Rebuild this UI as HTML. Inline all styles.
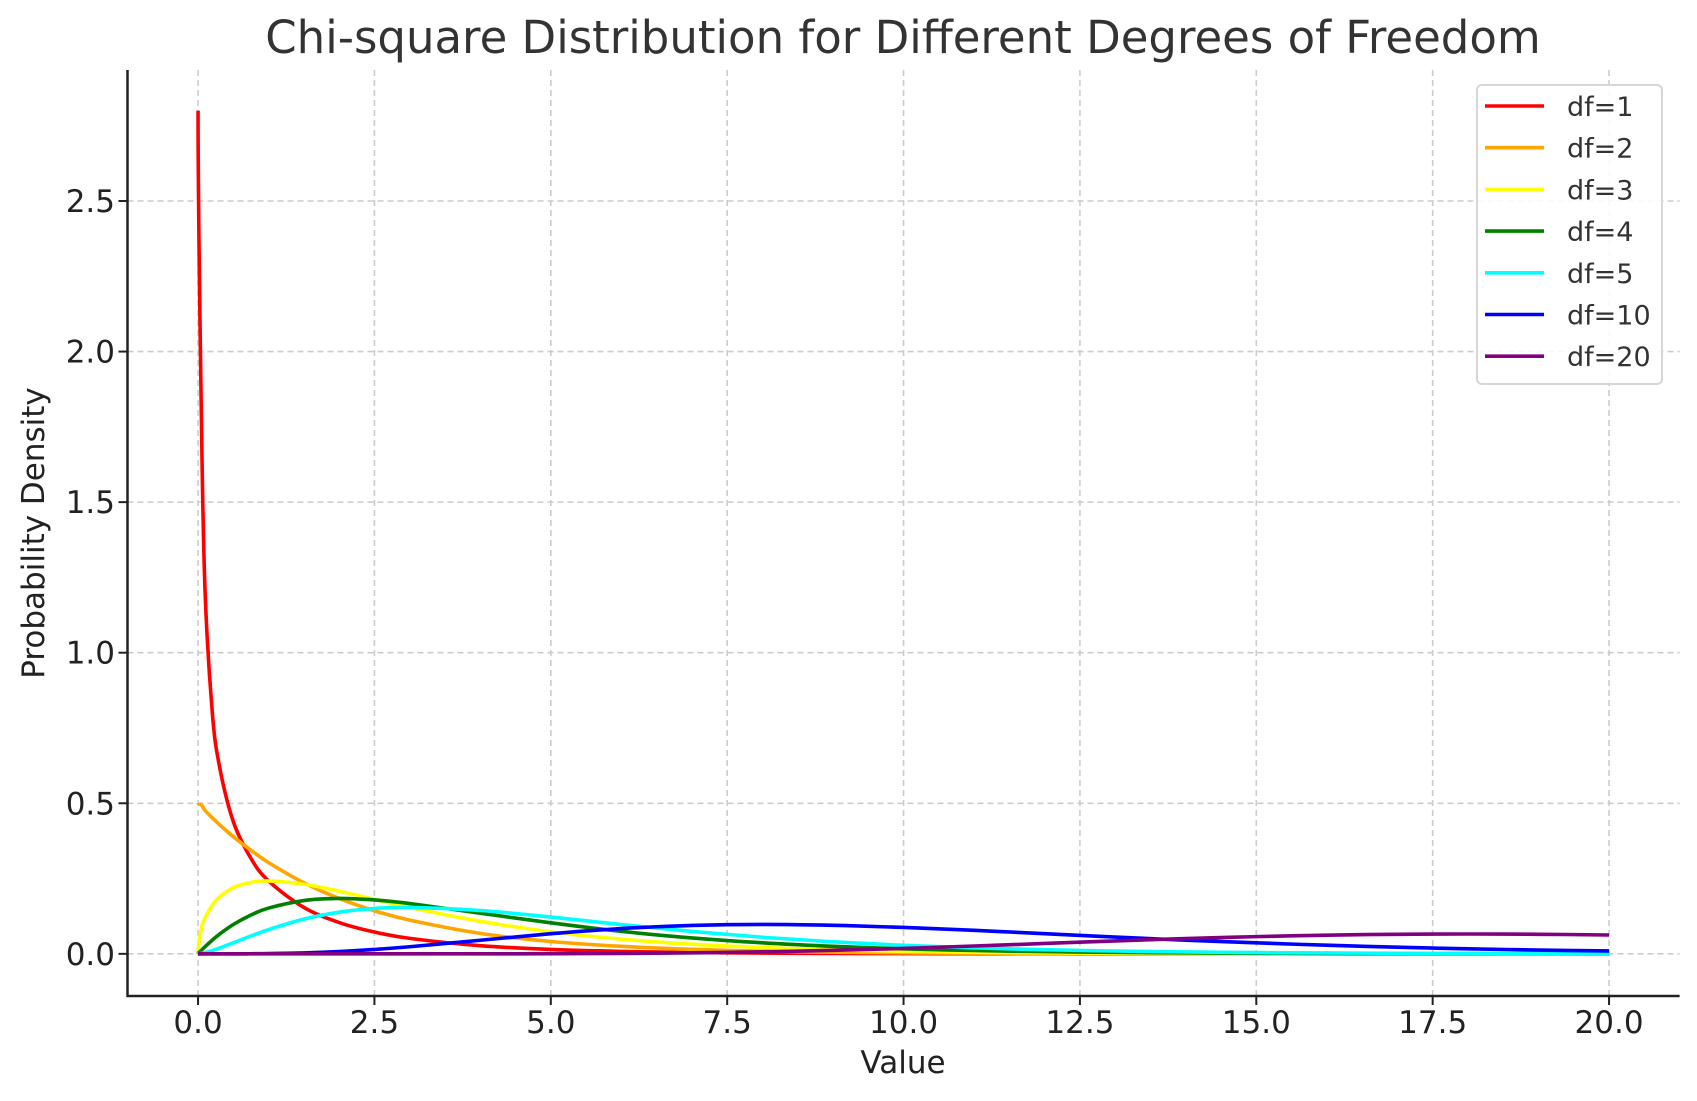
<!DOCTYPE html>
<html><head><meta charset="utf-8"><style>
html,body{margin:0;padding:0;background:#fff;}
svg{display:block;font-family:"DejaVu Sans","Liberation Sans",sans-serif;}
</style></head><body>
<svg id="chart" width="1697" height="1101" viewBox="0 0 1697 1101" xmlns="http://www.w3.org/2000/svg">
<rect width="1697" height="1101" fill="#fff"/>
<text x="903" y="53" text-anchor="middle" font-size="45" fill="#333">Chi-square Distribution for Different Degrees of Freedom</text>
<g id="grid"></g>
<g id="series"></g>
<g id="axes"></g>
<text x="903" y="1073" text-anchor="middle" font-size="31" fill="#222">Value</text>
<text transform="translate(44,533) rotate(-90)" text-anchor="middle" font-size="31" fill="#222">Probability Density</text>
<g id="legend"></g>
</svg>
<script>
const xValues=[0,0.05,0.1,0.2,0.3,0.5,0.75,1,1.5,2,2.5,3,4,5,6,7,8,9,10,11,12,13,14,15,16,17,18,19,20];
const seriesLabels=["df=1","df=2","df=3","df=4","df=5","df=10","df=20"];
const seriesColors=["#ff0000","#ffa500","#ffff00","#008000","#00ffff","#0000ff","#800080"];
const df1=[2.8,1.74,1.2,0.807,0.627,0.439,0.317,0.242,0.154,0.104,0.0724,0.0514,0.027,0.0146,0.0081,0.0045,0.0025,0.0014,0.0008,0.0005,0.0003,0.0002,0.0001,0.0001,0,0,0,0,0];
const df2=[0.5,0.494,0.476,0.452,0.43,0.389,0.344,0.303,0.236,0.184,0.143,0.112,0.068,0.041,0.025,0.015,0.009,0.0056,0.0034,0.002,0.0012,0.0008,0.0005,0.0003,0.0002,0.0001,0.0001,0,0];
const df3=[0,0.087,0.12,0.161,0.188,0.22,0.237,0.242,0.231,0.208,0.181,0.154,0.108,0.073,0.0487,0.0319,0.0207,0.0133,0.0085,0.0054,0.0034,0.0021,0.0013,0.0008,0.0005,0.0003,0.0002,0.0001,0.0001];
const df4=[0,0.0122,0.0238,0.0452,0.0646,0.0974,0.129,0.152,0.177,0.184,0.179,0.167,0.135,0.103,0.0747,0.0528,0.0366,0.025,0.0168,0.0112,0.0074,0.0049,0.0032,0.0021,0.0013,0.0009,0.0006,0.0004,0.0002];
const df5=[0,0.0015,0.004,0.0108,0.0188,0.0366,0.0594,0.0807,0.1153,0.1384,0.1508,0.154,0.1439,0.122,0.0973,0.0744,0.0551,0.0399,0.0283,0.0198,0.0137,0.0094,0.0063,0.0043,0.0029,0.0019,0.0012,0.0008,0.0005];
const df10=[0,0,0,0,0,0.0001,0.0003,0.0008,0.0031,0.0077,0.0146,0.0235,0.0451,0.0668,0.084,0.0944,0.0977,0.0948,0.0877,0.078,0.067,0.0558,0.0455,0.0365,0.0286,0.0221,0.0168,0.0127,0.0095];
const df20=[0,0,0,0,0,0,0,0,0,0,0,0,0.0001,0.0004,0.0014,0.0033,0.0066,0.0116,0.0181,0.026,0.0344,0.0429,0.0507,0.0572,0.062,0.0649,0.0659,0.065,0.0626];
const xTicks=[0,2.5,5,7.5,10,12.5,15,17.5,20];
const xTickLabels=["0.0","2.5","5.0","7.5","10.0","12.5","15.0","17.5","20.0"];
const yTicks=[0,0.5,1,1.5,2,2.5];
const yTickLabels=["0.0","0.5","1.0","1.5","2.0","2.5"];

const allSeries=[df1,df2,df3,df4,df5,df10,df20];
const L=127.5,R=1679.6,T=70,B=996;
const xMin=-1,xMax=21,yMin=-0.14,yMax=2.935;
const sx=v=>L+(v-xMin)/(xMax-xMin)*(R-L);
const sy=v=>B-(v-yMin)/(yMax-yMin)*(B-T);
const NS="http://www.w3.org/2000/svg";
function mk(tag,parent){const e=document.createElementNS(NS,tag);parent.appendChild(e);return e;}
const grid=document.getElementById('grid'),axes=document.getElementById('axes'),series=document.getElementById('series'),legend=document.getElementById('legend');

xTicks.forEach((t,i)=>{
  const g=mk('line',grid);
  
  
  g.setAttribute('x1',sx(t));g.setAttribute('x2',sx(t));g.setAttribute('y1',T);g.setAttribute('y2',B);
  g.setAttribute('stroke','#cccccc');g.setAttribute('stroke-width','1.6');g.setAttribute('stroke-dasharray','6,4');
  const tk=mk('line',axes);
  
  
  tk.setAttribute('x1',sx(t));tk.setAttribute('x2',sx(t));tk.setAttribute('y1',B);tk.setAttribute('y2',B+9);
  tk.setAttribute('stroke','#222');tk.setAttribute('stroke-width','2');
  const tl=mk('text',axes);
  
  
  tl.setAttribute('x',sx(t));tl.setAttribute('y',B+37);tl.setAttribute('text-anchor','middle');
  tl.setAttribute('font-size','31');tl.setAttribute('fill','#222');tl.textContent=xTickLabels[i];
});
yTicks.forEach((t,i)=>{
  const g=mk('line',grid);
  
  
  g.setAttribute('x1',L);g.setAttribute('x2',R);g.setAttribute('y1',sy(t));g.setAttribute('y2',sy(t));
  g.setAttribute('stroke','#cccccc');g.setAttribute('stroke-width','1.6');g.setAttribute('stroke-dasharray','6,4');
  const tk=mk('line',axes);
  
  
  tk.setAttribute('x1',L-9);tk.setAttribute('x2',L);tk.setAttribute('y1',sy(t));tk.setAttribute('y2',sy(t));
  tk.setAttribute('stroke','#222');tk.setAttribute('stroke-width','2');
  const tl=mk('text',axes);
  
  
  tl.setAttribute('x',115);tl.setAttribute('y',sy(t)+11);tl.setAttribute('text-anchor','end');
  tl.setAttribute('font-size','31');tl.setAttribute('fill','#222');tl.textContent=yTickLabels[i];
});
const sp1=mk('line',axes);


sp1.setAttribute('x1',L);sp1.setAttribute('x2',L);sp1.setAttribute('y1',T);sp1.setAttribute('y2',B+1);
sp1.setAttribute('stroke','#222');sp1.setAttribute('stroke-width','2.5');
const sp2=mk('line',axes);


sp2.setAttribute('x1',L-1);sp2.setAttribute('x2',R);sp2.setAttribute('y1',B);sp2.setAttribute('y2',B);
sp2.setAttribute('stroke','#222');sp2.setAttribute('stroke-width','2.5');

function smoothPath(pts){
  let d='M'+pts[0][0].toFixed(2)+','+pts[0][1].toFixed(2);
  for(let i=0;i<pts.length-1;i++){
    const p0=pts[Math.max(0,i-1)],p1=pts[i],p2=pts[i+1],p3=pts[Math.min(pts.length-1,i+2)];
    let c1=[p1[0]+(p2[0]-p0[0])/6,p1[1]+(p2[1]-p0[1])/6];
    let c2=[p2[0]-(p3[0]-p1[0])/6,p2[1]-(p3[1]-p1[1])/6];
    const lo=Math.min(p1[1],p2[1]),hi=Math.max(p1[1],p2[1]);
    if(i===0){c1=[p1[0],p1[1]+(p2[1]-p1[1])*0.3];}
    c1[1]=Math.min(Math.max(c1[1],lo-3),hi+3);c2[1]=Math.min(Math.max(c2[1],lo-3),hi+3);
    d+=' C'+c1[0].toFixed(2)+','+c1[1].toFixed(2)+' '+c2[0].toFixed(2)+','+c2[1].toFixed(2)+' '+p2[0].toFixed(2)+','+p2[1].toFixed(2);
  }
  return d;
}
allSeries.forEach((s,k)=>{
  const pts=xValues.map((x,i)=>[sx(x),sy(s[i])]);
  const p=mk('path',series);
  
  
  p.setAttribute('d',smoothPath(pts));
  p.setAttribute('fill','none');p.setAttribute('stroke',seriesColors[k]);p.setAttribute('stroke-width','3.6');
  p.setAttribute('stroke-linejoin','round');
});

const box=mk('rect',legend);


box.setAttribute('x',1477);box.setAttribute('y',85);box.setAttribute('width',185);box.setAttribute('height',299);
box.setAttribute('rx',5);box.setAttribute('fill','#fff');box.setAttribute('fill-opacity','0.85');
box.setAttribute('stroke','#d6d6d6');box.setAttribute('stroke-width','2');
seriesLabels.forEach((lab,k)=>{
  const y=106+k*41.7;
  const ln=mk('line',legend);
  
  
  ln.setAttribute('x1',1485);ln.setAttribute('x2',1544);ln.setAttribute('y1',y);ln.setAttribute('y2',y);
  ln.setAttribute('stroke',seriesColors[k]);ln.setAttribute('stroke-width','3.6');
  const tx=mk('text',legend);
  
  
  tx.setAttribute('x',1567);tx.setAttribute('y',y+10);tx.setAttribute('font-size','27');tx.setAttribute('fill','#333');
  tx.textContent=lab;
});
</script>
</body></html>
